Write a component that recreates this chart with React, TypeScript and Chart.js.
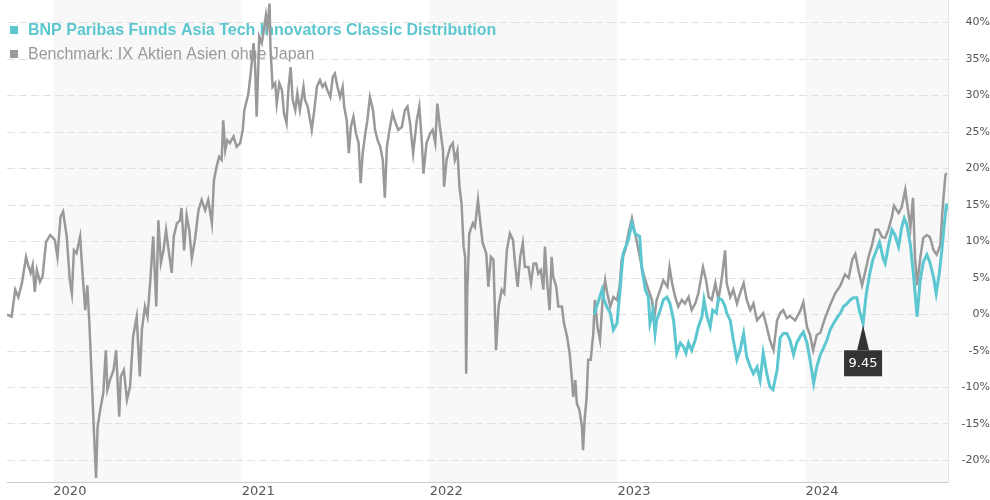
import React, { useEffect, useRef } from 'react';
import { Chart, registerables } from 'chart.js';

Chart.register(...registerables);

// ---- data ----
const fundLabel = 'BNP Paribas Funds Asia Tech Innovators Classic Distribution';
const benchLabel = 'Benchmark: IX Aktien Asien ohne Japan';
const fundColor = '#5cc7d0';
const benchColor = '#999999';

// day 0 = 2019-10-03
const startYear = 2019, startMonth = 9, startDay = 3;
const lastDay = 1828;
const yearTicks = [2020, 2021, 2022, 2023, 2024];
const shadedYears = [2020, 2022, 2024];
const yTicks = [-20, -15, -10, -5, 0, 5, 10, 15, 20, 25, 30, 35, 40];
const yMin = -22.95;
const yMax = 43.1;

const benchDays = [
  0, 9, 16, 22, 29, 37, 41, 46, 50, 54,
  58, 64, 69, 76, 84, 93, 98, 104, 109, 116,
  122, 126, 130, 135, 142, 148, 152, 156, 160, 165,
  169, 173, 176, 181, 187, 192, 195, 200, 207, 212,
  218, 221, 227, 233, 239, 245, 252, 258, 262, 268,
  273, 278, 284, 290, 294, 299, 304, 309, 313, 320,
  324, 330, 336, 339, 344, 349, 354, 359, 365, 372,
  378, 385, 391, 398, 402, 407, 412, 417, 420, 424,
  428, 433, 440, 446, 453, 458, 461, 466, 469, 474,
  479, 482, 485, 490, 495, 499, 503, 506, 510, 512,
  516, 521, 524, 529, 534, 538, 543, 547, 551, 555,
  560, 564, 569, 576, 579, 584, 589, 592, 597, 602,
  608, 613, 618, 622, 628, 633, 637, 642, 647, 652,
  655, 660, 664, 668, 673, 678, 683, 687, 691, 696,
  700, 705, 711, 715, 720, 725, 730, 734, 738, 743,
  749, 754, 760, 767, 773, 778, 783, 789, 796, 801,
  806, 809, 815, 822, 827, 832, 836, 841, 847, 849,
  854, 861, 866, 870, 875, 879, 883, 887, 890, 892,
  894, 898, 905, 909, 915, 919, 924, 931, 935, 940,
  945, 950, 955, 961, 966, 971, 977, 983, 987, 992,
  997, 1002, 1006, 1013, 1018, 1023, 1028, 1032, 1037, 1042,
  1045, 1049, 1054, 1058, 1061, 1067, 1071, 1078, 1082, 1088,
  1093, 1097, 1100, 1104, 1107, 1112, 1117, 1119, 1122, 1126,
  1129, 1134, 1139, 1142, 1147, 1152, 1157, 1162, 1166, 1172,
  1178, 1185, 1190, 1194, 1201, 1207, 1214, 1220, 1227, 1233,
  1240, 1246, 1253, 1257, 1262, 1269, 1275, 1283, 1287, 1292,
  1298, 1304, 1311, 1317, 1324, 1330, 1337, 1343, 1352, 1358,
  1363, 1369, 1376, 1382, 1389, 1395, 1398, 1405, 1411, 1418,
  1424, 1431, 1437, 1444, 1450, 1457, 1463, 1469, 1476, 1482,
  1489, 1496, 1502, 1508, 1515, 1521, 1531, 1541, 1547, 1554,
  1560, 1566, 1573, 1580, 1589, 1599, 1609, 1619, 1628, 1635,
  1642, 1648, 1654, 1661, 1667, 1674, 1680, 1687, 1693, 1700,
  1706, 1712, 1719, 1723, 1732, 1738, 1745, 1749, 1755, 1760,
  1764, 1768, 1774, 1780, 1787, 1793, 1800, 1806, 1813, 1818,
  1823, 1825,
];

const benchValues = [
  0, -0.3, 3.4, 2.4, 4.3, 7.9, 6.8, 5.7, 6.8, 3.1,
  6.1, 4.5, 5.2, 10.0, 10.9, 10.2, 7.9, 13.4, 14.1, 10.7,
  4.7, 2.9, 8.8, 8.4, 10.7, 4.3, 0.6, 4.0, -1.2, -9.4,
  -16.2, -22.4, -15.4, -13.1, -10.8, -4.9, -10.3, -9.0, -7.6, -4.9,
  -14.0, -8.5, -7.6, -11.7, -9.9, -3.0, -0.3, -8.5, -2.1, 1.1,
  -0.3, 4.3, 10.7, 1.1, 12.9, 7.1, 8.8, 11.6, 9.3, 5.7,
  10.7, 12.5, 12.9, 14.6, 8.8, 13.6, 11.6, 7.7, 10.2, 14.3,
  15.7, 14.3, 15.7, 12.5, 18.4, 20.2, 21.6, 21.2, 26.6, 22.5,
  23.9, 23.5, 24.4, 23.0, 23.5, 25.3, 28.0, 29.4, 30.3, 33.5,
  37.2, 33.9, 27.1, 38.1, 37.2, 39.0, 41.0, 39.4, 42.6, 36.2,
  31.2, 31.7, 28.9, 31.7, 30.8, 27.6, 26.2, 31.2, 33.9, 29.4,
  28.0, 30.3, 28.0, 31.2, 29.4, 28.5, 26.6, 25.3, 28.0, 31.2,
  32.1, 31.2, 31.7, 30.8, 29.8, 32.6, 33.0, 31.2, 29.8, 31.2,
  28.5, 26.6, 22.1, 25.7, 27.1, 24.8, 23.5, 18.0, 22.1, 24.8,
  26.6, 29.8, 28.0, 25.3, 23.9, 23.0, 21.2, 16.0, 23.0, 25.3,
  27.6, 26.4, 25.3, 25.7, 28.0, 28.5, 26.2, 22.1, 26.6, 28.5,
  23.5, 19.3, 23.5, 24.8, 25.3, 23.5, 28.9, 25.7, 22.5, 17.5,
  21.2, 23.0, 23.5, 21.2, 22.5, 17.5, 15.2, 9.3, 7.9, -8.1,
  2.9, 11.1, 12.5, 12.0, 15.7, 12.9, 9.8, 8.4, 3.8, 7.9,
  7.5, -4.9, 1.1, 3.4, 2.9, 8.8, 11.1, 10.2, 7.0, 3.8,
  7.9, 9.8, 6.5, 6.5, 4.3, 7.0, 7.0, 5.6, 6.1, 3.4,
  9.3, 4.7, 0.6, 7.9, 5.2, 3.8, 1.1, 1.1, -1.2, -3.0,
  -5.3, -8.5, -11.3, -9.0, -12.2, -13.1, -15.4, -18.6, -14.5, -11.4,
  -6.2, -6.2, -2.5, 2.0, -1.7, -3.5, 2.0, 4.7, 2.9, 1.1,
  2.4, 2.0, 3.8, 7.5, 8.8, 11.1, 13.2, 11.1, 8.8, 6.5,
  4.7, 3.4, 2.0, -0.8, 2.0, 3.4, 4.7, 3.8, 6.5, 4.3,
  2.4, 1.1, 2.0, 1.5, 2.4, 0.6, 1.5, 2.9, 6.5, 4.7,
  2.4, 2.0, 4.3, 2.0, 5.2, 8.8, 4.3, 2.4, 3.4, 1.5,
  2.9, 4.3, 2.0, 0.6, 1.5, -0.8, -0.3, 0.2, -1.7, -3.5,
  -4.9, -0.8, 0.2, 0.6, -0.5, -0.2, -0.8, 0.5, 1.7, -1.7,
  -2.8, -4.9, -2.8, -2.5, -0.5, 1.3, 2.9, 4.0, 5.5, 5.0,
  7.5, 8.3, 6.1, 4.0, 5.8, 8.0, 9.4, 11.6, 11.6, 10.6,
  10.5, 11.6, 13.4, 14.9, 13.9, 14.7, 17.1, 15.0, 11.9, 16.0,
  7.7, 4.0, 7.7, 10.5, 10.9, 10.6, 8.8, 8.2, 9.5, 15.0,
  19.1, 19.4,
];

const fundDays = [
  1141, 1146, 1156, 1160, 1165, 1172, 1178, 1185, 1191, 1197,
  1207, 1214, 1220, 1229, 1233, 1240, 1246, 1249, 1255, 1259,
  1262, 1269, 1275, 1282, 1288, 1295, 1301, 1308, 1314, 1319,
  1324, 1330, 1337, 1343, 1350, 1354, 1360, 1366, 1371, 1378,
  1382, 1389, 1395, 1398, 1405, 1411, 1418, 1424, 1431, 1437,
  1444, 1450, 1457, 1463, 1469, 1476, 1482, 1488, 1496, 1502,
  1508, 1515, 1521, 1528, 1534, 1541, 1547, 1554, 1560, 1567,
  1573, 1580, 1586, 1593, 1599, 1606, 1612, 1619, 1625, 1632,
  1638, 1644, 1651, 1656, 1663, 1669, 1676, 1682, 1689, 1695,
  1702, 1706, 1712, 1719, 1725, 1732, 1738, 1743, 1748, 1755,
  1761, 1768, 1774, 1780, 1787, 1793, 1800, 1805, 1811, 1816,
  1821, 1825, 1826,
];

const fundValues = [
  0, 1.2, 3.4, 2.0, 1.1, 0.2, -2.1, -1.2, 3.4, 8.4,
  10.2, 12.5, 11.1, 10.7, 6.5, 3.4, 2.4, -1.2, 0.6, -2.6,
  -0.8, 0.6, 2.0, 2.4, 1.5, -0.8, -5.3, -3.9, -4.4, -5.3,
  -3.9, -4.9, -3.5, -1.7, -0.3, 2.0, -0.3, -1.7, 0.6, 0.2,
  2.2, 2.0, 1.1, 0.2, -0.8, -3.5, -6.2, -4.9, -2.6, -5.8,
  -7.2, -8.1, -7.2, -9.0, -5.3, -8.1, -9.9, -10.3, -7.6, -3.2,
  -2.6, -2.6, -3.5, -5.5, -3.9, -3.0, -2.4, -3.9, -6.2, -9.4,
  -7.2, -5.5, -4.6, -3.5, -2.1, -1.2, -0.5, 0.2, 1.1, 1.5,
  2.0, 2.3, 2.3, 0.5, -1.2, 2.7, 5.6, 7.5, 8.8, 9.9,
  7.7, 7.0, 9.3, 11.6, 10.9, 9.3, 11.9, 13.2, 12.3, 9.5,
  5.4, -0.3, 4.7, 7.2, 8.2, 7.1, 5.1, 2.9, 5.6, 8.8,
  12.5, 15.2, 14.3,
];

const markerIndex = 84;
const markerLabel = '9.45';

// ---- helpers ----
const DAY_MS = 86400000;
const startMs = Date.UTC(startYear, startMonth, startDay);
const dayOfYearStart = (y: number) => (Date.UTC(y, 0, 1) - startMs) / DAY_MS;
const yearOfDay = (d: number) => new Date(startMs + d * DAY_MS + DAY_MS / 2).getUTCFullYear();

const toPoints = (xs: number[], ys: number[]) => xs.map((x, i) => ({ x, y: ys[i] }));

const zeroPadding = (scale: any) => {
  scale.paddingTop = 0;
  scale.paddingBottom = 0;
  scale.paddingLeft = 0;
  scale.paddingRight = 0;
};

const bandsPlugin = {
  id: 'yearBands',
  beforeDraw(chart: any) {
    const { ctx, chartArea, scales } = chart;
    const xs = scales.x;
    ctx.save();
    ctx.fillStyle = '#f8f8f8';
    shadedYears.forEach((y) => {
      const a = Math.max(xs.getPixelForValue(dayOfYearStart(y)), chartArea.left);
      const b = Math.min(xs.getPixelForValue(Math.min(dayOfYearStart(y + 1), lastDay)), chartArea.right);
      ctx.fillRect(a, chartArea.top, b - a, chartArea.bottom - chartArea.top);
    });
    ctx.restore();
  },
};

const legendPlugin = {
  id: 'inlineLegend',
  beforeDatasetsDraw(chart: any) {
    const { ctx, chartArea } = chart;
    const left = chartArea.left;
    const items = chart.data.datasets.map((ds: any, i: number) => ({
      text: ds.label,
      color: ds.borderColor,
      bold: i === 0,
    }));
    ctx.save();
    ctx.textBaseline = 'alphabetic';
    ctx.textAlign = 'left';
    items.forEach((it: any, i: number) => {
      const base = chartArea.top + 35 + i * 24;
      ctx.fillStyle = it.color;
      ctx.fillRect(left + 3, base - 9, 8, 8);
      ctx.font = (it.bold ? 'bold ' : '') + '16px "Liberation Sans", Arial, sans-serif';
      ctx.fillText(it.text, left + 21, base);
    });
    ctx.restore();
  },
};

const markerPlugin = {
  id: 'flagMarker',
  afterDatasetsDraw(chart: any) {
    const meta = chart.getDatasetMeta(0);
    const pt = meta.data[markerIndex];
    if (!pt) return;
    const { ctx } = chart;
    const px = pt.x;
    const py = pt.y;
    ctx.save();
    ctx.fillStyle = '#333333';
    ctx.beginPath();
    ctx.moveTo(px, py + 2);
    ctx.lineTo(px + 6, py + 27);
    ctx.lineTo(px - 6, py + 27);
    ctx.closePath();
    ctx.fill();
    ctx.fillRect(px - 19, py + 27, 38, 26);
    ctx.fillStyle = '#ffffff';
    ctx.font = '13px "DejaVu Sans", sans-serif';
    ctx.textAlign = 'center';
    ctx.textBaseline = 'middle';
    ctx.fillText(markerLabel, px, py + 40.5);
    ctx.restore();
  },
};

export default function App() {
  const canvasRef = useRef<HTMLCanvasElement | null>(null);

  useEffect(() => {
    if (!canvasRef.current) return;
    const chart = new Chart(canvasRef.current, {
      type: 'line',
      data: {
        datasets: [
          {
            label: fundLabel,
            data: toPoints(fundDays, fundValues),
            borderColor: fundColor,
            backgroundColor: fundColor,
            borderWidth: 3,
            pointRadius: 0,
            tension: 0,
            fill: false,
          },
          {
            label: benchLabel,
            data: toPoints(benchDays, benchValues),
            borderColor: benchColor,
            backgroundColor: benchColor,
            borderWidth: 2.5,
            pointRadius: 0,
            tension: 0,
            fill: false,
          },
        ],
      },
      options: {
        animation: false,
        responsive: true,
        maintainAspectRatio: false,
        devicePixelRatio: 1,
        layout: { padding: { left: 7, top: 0, right: 0, bottom: 0 } },
        plugins: {
          legend: { display: false },
          tooltip: { enabled: false },
        },
        events: [],
        scales: {
          x: {
            type: 'linear',
            min: 0,
            max: lastDay,
            grid: { display: false, drawTicks: false },
            border: { display: true, color: '#cccccc', width: 1 },
            afterBuildTicks: (scale: any) => {
              scale.ticks = yearTicks.map((y) => ({ value: dayOfYearStart(y) }));
            },
            afterFit: (scale: any) => {
              scale.height = 18;
              zeroPadding(scale);
            },
            ticks: {
              autoSkip: false,
              maxRotation: 0,
              align: 'start',
              padding: 2,
              color: '#555555',
              font: { family: '"DejaVu Sans", sans-serif', size: 13 },
              callback: (v: any) => String(yearOfDay(Number(v))),
            },
          },
          y: {
            type: 'linear',
            position: 'right',
            min: yMin,
            max: yMax,
            afterBuildTicks: (scale: any) => {
              scale.ticks = yTicks.map((v) => ({ value: v }));
            },
            afterFit: (scale: any) => {
              scale.width = 42;
              zeroPadding(scale);
            },
            grid: { color: '#e0e0e0', lineWidth: 1, drawTicks: false },
            border: { display: true, color: '#e4e4e4', width: 1, dash: [8, 4] },
            ticks: {
              crossAlign: 'far',
              padding: 0,
              color: '#555555',
              font: { family: '"DejaVu Sans", sans-serif', size: 11 },
              callback: (v: any) => v + '%',
            },
          },
        },
      } as any,
      plugins: [bandsPlugin, legendPlugin, markerPlugin],
    });
    return () => chart.destroy();
  }, []);

  return (
    <div style={{ position: 'absolute', left: 0, top: 0, width: 990, height: 500, background: '#fff' }}>
      <canvas ref={canvasRef} />
    </div>
  );
}
